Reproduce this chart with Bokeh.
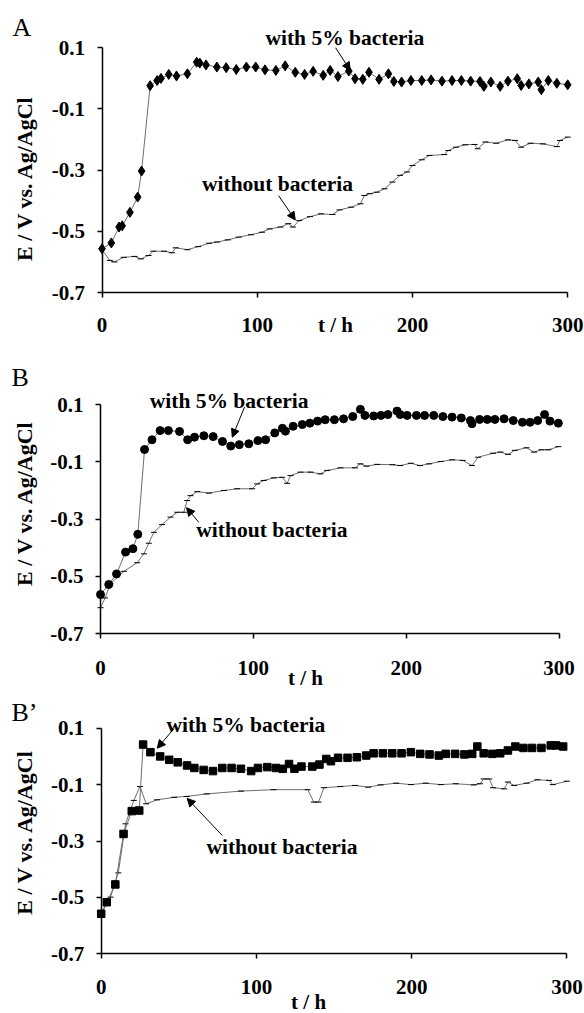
import math
from bokeh.plotting import figure
from bokeh.layouts import column
from bokeh.models import Range1d, FixedTicker, Label, Arrow, NormalHead, PrintfTickFormatter
from bokeh.embed import file_html
from bokeh.resources import INLINE

# ---------------- data ----------------
x_ticks = [0, 100, 200, 300]
y_ticks = [-0.7, -0.5, -0.3, -0.1, 0.1]
label_with = "with 5% bacteria"
label_without = "without bacteria"
x_title = "t / h"
y_title = "E / V vs. Ag/AgCl"

# Panel A
A_with_t = [0, 6, 11, 13, 18, 23, 25.5, 31, 35.5, 38, 43, 48, 55, 61, 63, 67, 74, 80, 86.5, 93,
            99, 105, 112, 118, 124.5, 130.5, 136, 142.5, 147, 152, 159, 163, 168, 172, 178.5, 184.5,
            188, 193, 199, 206, 212, 219, 225.5, 231.5, 237.5, 243.5, 246, 250.5, 256.5, 261.5,
            267.5, 270, 275, 281, 283, 287.5, 293, 300]
A_with_v = [-0.557, -0.538, -0.486, -0.482, -0.438, -0.388, -0.303, -0.024, -0.007, 0.0, 0.013,
            0.008, 0.015, 0.053, 0.05, 0.044, 0.037, 0.035, 0.029, 0.037, 0.037, 0.028, 0.026,
            0.041, 0.02, 0.013, 0.023, 0.01, 0.026, 0.006, 0.024, -0.001, -0.003, 0.02, -0.003,
            0.015, -0.01, -0.012, -0.007, -0.007, -0.005, -0.009, -0.007, -0.007, -0.009, -0.01,
            -0.026, -0.012, -0.026, -0.009, -0.001, -0.023, -0.018, -0.012, -0.037, -0.007,
            -0.016, -0.021]
A_wo_t = [0, 5, 8, 14, 21, 25, 30, 33, 40, 45, 47.5, 55, 62, 69, 74, 81, 88, 96, 103, 108,
          115, 120, 123, 127, 134, 141, 148.5, 153, 160.5, 166.5, 169, 172.5, 177, 182, 187, 192,
          196.5, 200, 206, 211, 220.5, 223, 228, 234, 240, 242, 247, 254, 261.5, 266, 270, 276,
          284, 293, 295, 300]
A_wo_v = [-0.56, -0.595, -0.60, -0.585, -0.582, -0.59, -0.579, -0.565, -0.565, -0.57, -0.554,
          -0.56, -0.55, -0.539, -0.535, -0.528, -0.519, -0.511, -0.503, -0.492, -0.486, -0.475,
          -0.486, -0.465, -0.452, -0.443, -0.445, -0.43, -0.421, -0.41, -0.383, -0.377, -0.372,
          -0.361, -0.339, -0.317, -0.306, -0.285, -0.266, -0.252, -0.249, -0.236, -0.225, -0.217,
          -0.216, -0.23, -0.208, -0.212, -0.201, -0.203, -0.225, -0.212, -0.214, -0.223, -0.203,
          -0.192]

# Panel B
B_with_t = [0, 5.4, 10.5, 16.4, 21.2, 24.4, 28.8, 33.7, 39, 44.4, 51.7, 57, 61.5, 67.6, 73.7,
            79.8, 85.2, 90.8, 97, 103, 108, 114, 119, 121, 126, 132, 137, 142, 147, 153, 159, 165,
            170, 173, 178.7, 183.5, 188, 194, 196, 200.6, 206.7, 212, 218, 224, 230, 236, 242, 243,
            248, 253, 258, 264, 270, 276, 281, 286, 290.5, 294, 299.5]
B_with_v = [-0.563, -0.528, -0.491, -0.415, -0.403, -0.353, -0.057, -0.023, 0.009, 0.009, 0.006,
            -0.023, -0.014, -0.009, -0.012, -0.029, -0.045, -0.04, -0.037, -0.026, -0.023, 0.001,
            0.017, 0.007, 0.024, 0.03, 0.035, 0.042, 0.047, 0.047, 0.05, 0.058, 0.083, 0.062, 0.06,
            0.062, 0.065, 0.077, 0.065, 0.062, 0.062, 0.062, 0.062, 0.058, 0.056, 0.053, 0.044,
            0.033, 0.048, 0.048, 0.048, 0.05, 0.044, 0.038, 0.038, 0.044, 0.065, 0.042, 0.035]
B_wo_t = [0, 3, 6.5, 15.3, 24, 28.4, 31.6, 34.9, 40.3, 45.8, 50.2, 54.5, 56.7, 58.9, 63.3, 70.9,
          80.7, 89.4, 99.2, 102.5, 106.8, 113.4, 118.8, 122.1, 124.3, 130.8, 137.4, 143.9, 148.3,
          157, 166.5, 170, 174, 181, 191, 196, 203, 209, 215, 222.6, 230, 237, 243, 247, 256.8,
          261.6, 266.6, 271, 278.7, 283.6, 288.5, 293, 299.5]
B_wo_v = [-0.609, -0.575, -0.525, -0.482, -0.452, -0.421, -0.384, -0.346, -0.319, -0.293, -0.276,
          -0.276, -0.235, -0.218, -0.204, -0.209, -0.2, -0.194, -0.194, -0.177, -0.165, -0.156,
          -0.154, -0.175, -0.148, -0.136, -0.136, -0.142, -0.13, -0.121, -0.121, -0.107, -0.115,
          -0.109, -0.11, -0.113, -0.105, -0.113, -0.107, -0.099, -0.093, -0.095, -0.113, -0.084,
          -0.07, -0.066, -0.074, -0.06, -0.051, -0.066, -0.058, -0.058, -0.047]

# Panel B'
Bp_with_t = [0, 3.6, 9.1, 14.4, 19.7, 24.5, 27, 31.7, 38, 43.8, 49.3, 55.3, 60, 66, 72, 78, 84,
             90, 96.6, 101, 107, 112.5, 117, 121, 124.5, 129, 136, 140.6, 145, 148, 152.6, 158.7,
             164.7, 170.7, 175.5, 181.5, 187.5, 193.5, 199.5, 205.5, 211.5, 217.5, 222, 228, 234,
             239, 242.3, 246.4, 252, 257, 262, 266.8, 272, 277.6, 283.6, 289.6, 293, 297.6]
Bp_with_v = [-0.558, -0.517, -0.454, -0.275, -0.194, -0.192, 0.042, 0.015, 0.0, -0.012, -0.021,
             -0.032, -0.041, -0.048, -0.052, -0.041, -0.041, -0.044, -0.052, -0.041, -0.038,
             -0.041, -0.044, -0.027, -0.044, -0.036, -0.036, -0.029, -0.009, -0.017, -0.005,
             -0.005, -0.003, 0.003, 0.011, 0.011, 0.011, 0.011, 0.015, 0.009, 0.007, 0.003, 0.009,
             0.009, 0.007, 0.009, 0.035, 0.011, 0.009, 0.011, 0.021, 0.035, 0.03, 0.03, 0.03,
             0.039, 0.039, 0.035]
Bp_wo_t = [0, 6, 11, 15.7, 21, 25, 29, 36, 47, 55, 68, 90, 111, 133, 137, 140, 143.5, 154, 163.5,
           172, 180, 190, 199.5, 209, 218.8, 228.4, 240, 244, 246.4, 250, 252.4, 259.6, 262, 266,
           274, 281, 288.5, 291, 300]
Bp_wo_v = [-0.558, -0.499, -0.413, -0.239, -0.156, -0.107, -0.168, -0.154, -0.145, -0.142, -0.133,
           -0.123, -0.118, -0.118, -0.162, -0.162, -0.111, -0.107, -0.103, -0.109, -0.101, -0.095,
           -0.1, -0.095, -0.1, -0.097, -0.101, -0.097, -0.08, -0.08, -0.111, -0.115, -0.091,
           -0.103, -0.095, -0.083, -0.085, -0.1, -0.088]

# ---------------- styling / layout ----------------
FONT = "Liberation Serif"
TXT = "21px"
ANN = "21.5px"
LINE_GREY = "#6e6e6e"
W = 584
SHIFT = 0.32  # compensation (in em) for where the renderer puts the alphabetic baseline


def make_panel(letter, with_t, with_v, wo_t, wo_v, marker, msize, geom):
    # pixel geometry of the axes box inside this canvas -> ranges spanning the whole canvas
    x0, x300, ytop, ybot, h = geom["px"]
    k = (x300 - x0) / 300.0
    s = (ybot - ytop) / 0.8
    xr = Range1d(-x0 / k, (W - x0) / k)
    yr = Range1d(0.1 - (h - ytop) / s, 0.1 + ytop / s)

    p = figure(width=W, height=h, output_backend="svg", toolbar_location=None, title=None,
               x_range=xr, y_range=yr, min_border=0,
               background_fill_color="white", border_fill_color="white")
    p.outline_line_color = None
    p.grid.visible = False
    for ax in (p.xaxis[0], p.yaxis[0]):
        ax.axis_line_color = "black"
        ax.axis_line_width = 1.5
        ax.major_tick_line_color = "black"
        ax.major_tick_line_width = 1.5
        ax.major_tick_in = 0
        ax.major_tick_out = 5
        ax.minor_tick_line_color = None
        ax.major_label_text_font = FONT
        ax.major_label_text_font_style = "bold"
        ax.major_label_text_font_size = TXT
        ax.major_label_text_color = "black"
    xa, ya = p.xaxis[0], p.yaxis[0]
    xa.ticker = FixedTicker(ticks=x_ticks)
    ya.ticker = FixedTicker(ticks=y_ticks)
    xa.formatter = PrintfTickFormatter(format="%d")
    ya.formatter = PrintfTickFormatter(format="%.1f")
    xa.bounds = (0, 300)
    ya.bounds = (-0.7, 0.1)
    xa.fixed_location = -0.7
    ya.fixed_location = 0
    xa.major_label_standoff = geom["xs"]
    ya.major_label_standoff = 12

    # without bacteria
    p.line(wo_t, wo_v, line_color=LINE_GREY, line_width=1)
    p.scatter(wo_t, wo_v, marker="dash", size=6, line_color="black", line_width=1)
    # with bacteria
    p.line(with_t, with_v, line_color=LINE_GREY, line_width=1)
    p.scatter(with_t, with_v, marker=marker, size=msize, fill_color="black", line_color="black")

    def lab(x, y, text, size=ANN, style="bold", align="left", rotated=False):
        px = float(size.replace("px", ""))
        d = SHIFT * px
        p.add_layout(Label(x=x, y=y, text=text, text_font=FONT, text_font_size=size,
                           text_font_style=style, text_align=align, text_baseline="alphabetic",
                           text_color="black", angle=(math.pi / 2 if rotated else 0.0),
                           x_offset=(-d if rotated else 0), y_offset=(0 if rotated else d)))

    lab(*geom["letter"], letter, size="26px", style="normal")
    lab(*geom["with_lab"], label_with)
    lab(*geom["wo_lab"], label_without)
    lab(*geom["xt"], x_title, size=TXT, align="center")
    lab(*geom["yt"], y_title, size="22px", align="center", rotated=True)
    for a in (geom["arr1"], geom["arr2"]):
        p.add_layout(Arrow(x_start=a[0], y_start=a[1], x_end=a[2], y_end=a[3],
                           line_color="black", line_width=1,
                           end=NormalHead(size=8, fill_color="black", line_color="black")))
    return p


# px = (x of t=0, x of t=300, y of 0.1, y of -0.7, canvas height), in canvas pixels
geomA = dict(px=(101.5, 567.2, 47.3, 292.0, 340), xs=20,
             letter=(-57.7, 0.140), with_lab=(105.3, 0.109), wo_lab=(64.4, -0.369),
             xt=(150.4, -0.827), yt=(-45.4, -0.326),
             arr1=(150.5, 0.100, 159.9, 0.026), arr2=(113.7, -0.383, 124.5, -0.463))
geomB = dict(px=(100.0, 558.6, 64.0, 293.3, 350), xs=22,
             letter=(-58.2, 0.166), with_lab=(32.2, 0.087), wo_lab=(62.7, -0.363),
             xt=(134.1, -0.878), yt=(-45.1, -0.244),
             arr1=(94.2, 0.091, 86.2, -0.014), arr2=(64.3, -0.311, 56.3, -0.260))
geomBp = dict(px=(100.7, 566.4, 37.7, 263.3, 323), xs=21,
              letter=(-57.8, 0.127), with_lab=(42.0, 0.088), wo_lab=(67.8, -0.345),
              xt=(133.6, -0.895), yt=(-44.9, -0.268),
              arr1=(46.8, 0.098, 36.1, 0.029), arr2=(77.9, -0.280, 55.4, -0.149))

pA = make_panel("A", A_with_t, A_with_v, A_wo_t, A_wo_v, "diamond", 10, geomA)
pB = make_panel("B", B_with_t, B_with_v, B_wo_t, B_wo_v, "circle", 8, geomB)
pBp = make_panel("B\u2019", Bp_with_t, Bp_with_v, Bp_wo_t, Bp_wo_v, "square", 7.5, geomBp)

layout = column(pA, pB, pBp, spacing=0)
open("out.html", "w").write(file_html(layout, INLINE))
